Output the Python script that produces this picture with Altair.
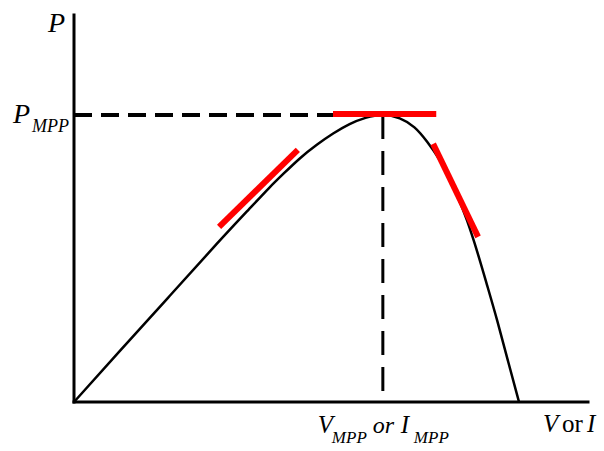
import altair as alt
import pandas as pd

# P-V characteristic of a PV source: V normalised to the open-circuit value,
# P normalised to the maximum power point.
curve_v = [0.0, 0.103, 0.216, 0.328, 0.396, 0.440, 0.470, 0.508, 0.546, 0.582, 0.620,
           0.654, 0.694, 0.733, 0.766, 0.793, 0.823, 0.838, 0.863, 0.883, 0.906, 0.928,
           0.951, 0.975, 1.0]
curve_p = [0.0, 0.178, 0.371, 0.564, 0.676, 0.749, 0.794, 0.851, 0.897, 0.936, 0.970,
           0.991, 1.004, 0.991, 0.960, 0.909, 0.843, 0.798, 0.714, 0.636, 0.526, 0.408,
           0.286, 0.143, 0.0]

v_mpp = 0.694
p_mpp = 1.0
v_axis_max = 1.155
p_axis_max = 1.348

# slope markers: dP/dV > 0 left of the MPP, = 0 at it, < 0 right of it
tangent_id = ["left", "left", "top", "top", "right", "right"]
tangent_v = [0.326, 0.503, 0.582, 0.814, 0.807, 0.908]
tangent_p = [0.610, 0.878, 1.003, 1.003, 0.899, 0.575]

FONT = "Liberation Serif"
xs = alt.Scale(domain=[0, v_axis_max], nice=False, zero=False)
ys = alt.Scale(domain=[0, p_axis_max], nice=False, zero=False)


def X(field="V"):
    return alt.X(f"{field}:Q", scale=xs, axis=None)


def Y(field="P"):
    return alt.Y(f"{field}:Q", scale=ys, axis=None)


curve_df = pd.DataFrame({"V": curve_v, "P": curve_p})
tangent_df = pd.DataFrame({"id": tangent_id, "V": tangent_v, "P": tangent_p})
axes_df = pd.DataFrame({"V": [0, 0], "P": [0, 0],
                        "V2": [v_axis_max, 0], "P2": [0, p_axis_max]})
hguide_df = pd.DataFrame({"V": [0], "P": [p_mpp], "V2": [v_mpp], "P2": [p_mpp]})
vguide_df = pd.DataFrame({"V": [v_mpp], "P": [p_mpp], "V2": [v_mpp], "P2": [0]})

axes = alt.Chart(axes_df).mark_rule(color="black", strokeWidth=3, strokeCap="square").encode(
    x=X(), y=Y(), x2="V2:Q", y2="P2:Q")

hguide = alt.Chart(hguide_df).mark_rule(color="black", strokeWidth=4, strokeDash=[18, 9]).encode(
    x=X(), y=Y(), x2="V2:Q", y2="P2:Q")

vguide = alt.Chart(vguide_df).mark_rule(color="black", strokeWidth=3, strokeDash=[24, 12]).encode(
    x=X(), y=Y(), x2="V2:Q", y2="P2:Q")

# B-spline smoothing keeps the hand-read curve free of kinks
curve = alt.Chart(curve_df).mark_line(color="black", strokeWidth=2.5, interpolate="basis").encode(
    x=X(), y=Y(), order=alt.Order("V:Q"))

tangents = alt.Chart(tangent_df).mark_line(color="#ff0000", strokeWidth=6, strokeCap="butt").encode(
    x=X(), y=Y(), detail="id:N")


def label(text, v, p, dx, dy, size, italic=True):
    df = pd.DataFrame({"V": [v], "P": [p], "t": [text]})
    return alt.Chart(df).mark_text(
        font=FONT, fontSize=size, fontStyle="italic" if italic else "normal",
        align="left", baseline="alphabetic", dx=dx, dy=dy, color="black"
    ).encode(x=X(), y=Y(), text="t:N")


labels = [
    # y-axis title
    label("P", 0, p_axis_max, -26, 17, 28),
    # P_MPP
    label("P", 0, p_mpp, -61, 8, 28),
    label("MPP", 0, p_mpp, -42, 17, 18),
    # V_MPP or I_MPP
    label("V", v_mpp, 0, -65, 31, 25),
    label("MPP", v_mpp, 0, -51, 41, 17),
    label("or", v_mpp, 0, -10, 31, 24),
    label("I", v_mpp, 0, 18, 31, 25),
    label("MPP", v_mpp, 0, 31, 41, 17),
    # x-axis title
    label("V", v_axis_max, 0, -45, 30, 25),
    label("or", v_axis_max, 0, -26, 30, 25, italic=False),
    label("I", v_axis_max, 0, -1, 30, 25),
]

chart = alt.layer(axes, hguide, vguide, curve, tangents, *labels).properties(
    width=514, height=387,
    autosize=alt.AutoSizeParams(type="none"),
    padding={"left": 74, "top": 15, "right": 16, "bottom": 49},
    background="white",
).configure_view(stroke=None)

chart.save("out.html", embed_options={"renderer": "svg", "actions": False})
